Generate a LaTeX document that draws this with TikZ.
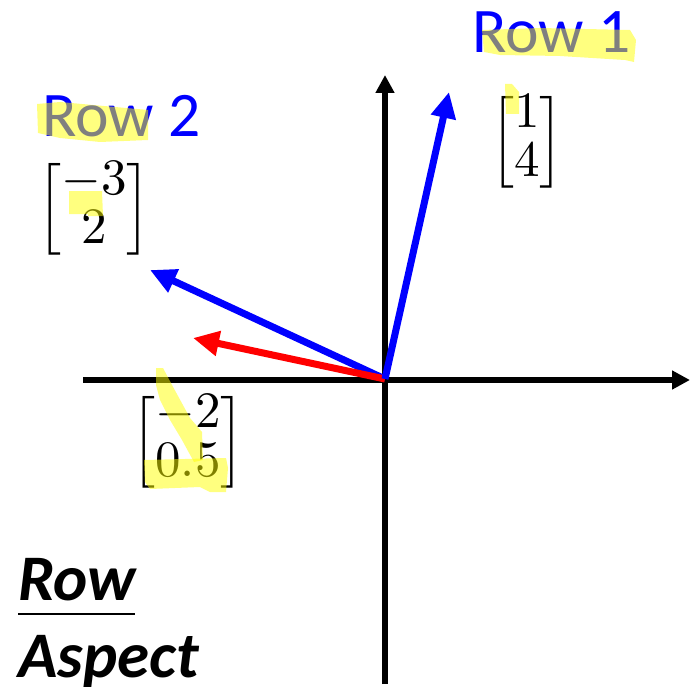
\documentclass[tikz,border=0pt]{standalone}
\usepackage{amsmath}
\usepackage{graphicx}
\usepackage{fontspec}
\setmainfont{Carlito}
\usetikzlibrary{arrows.meta}
\tikzset{
  axis/.style={line width=6pt,-{Triangle[length=18pt,width=18pt]}},
  vec/.style={line width=7pt,-{Triangle[length=26pt,width=24pt]}},
  lbl/.style={inner sep=0pt,anchor=base west,font=\fontsize{63.5}{70}\selectfont,text=blue},
  bi/.style={inner sep=0pt,anchor=base west,font=\fontsize{65}{70}\selectfont\bfseries\itshape},
  mat/.style={inner sep=0pt},
  hl/.style={fill={rgb,255:red,255;green,255;blue,0},fill opacity=0.5,draw=none},
}
\newcommand{\bigmat}[2]{\scalebox{5.1}{\renewcommand{\arraystretch}{0.8}$\begin{bmatrix}#1\\#2\end{bmatrix}$}}
\begin{document}
\begin{tikzpicture}[x=1pt,y=-1pt]
\useasboundingbox[fill=white] (0,0) rectangle (690,687);
% axes
\coordinate (O) at (385,380);
\coordinate (xl) at (83,380);
\coordinate (xr) at (690,380);
\coordinate (yb) at (385,684);
\coordinate (yt) at (385,75);
\draw[axis] (xl) -- (xr);
\draw[axis] (yb) -- (yt);
% vectors
\coordinate (v1) at (449,92);
\coordinate (v2) at (150,270);
\coordinate (v3) at (193,338);
\coordinate (Os) at (385,379);
\draw[vec,blue] (Os) -- (v2);
\draw[vec,red] (Os) -- (v3);
\draw[vec,blue] (Os) -- (v1);
% labels
\node[lbl] (r1) at (472,53) {Row 1};
\node[lbl] (r2) at (42,137) {Row 2};
\node[mat] (m1) at (527,142) {\bigmat{1}{4}};
\node[mat] (m2) at (94,209) {\bigmat{-3}{2}};
\node[mat] (m3) at (188,442) {\bigmat{-2}{0.5}};
\node[bi] (row) at (18,600) {Row};
\node[bi] (asp) at (18,677) {Aspect};
\coordinate (ul) at (18,614);
\coordinate (ur) at (135,614);
\draw[line width=2pt] (ul) -- (ur);
% highlighter marks
\fill[hl] (482,30) -- (540,28) -- (630,30) -- (636,40) -- (634,62) -- (625,60) -- (560,56) -- (500,55) -- (484,52) -- cycle;
\fill[hl] (505,84) -- (512,84) -- (519,92) -- (519,114) -- (506,114) -- cycle;
\fill[hl] (37,104) -- (60,102) -- (148,110) -- (148,140) -- (100,142) -- (60,138) -- (38,133) -- cycle;
\fill[hl] (69,191) -- (102,191) -- (103,216) -- (88,216) -- (88,214) -- (69,214) -- cycle;
\fill[hl] (156,368) -- (163,368) -- (172,385) -- (190,418) -- (202,432) -- (203,460) -- (194,462) -- (182,440) -- (170,420) -- (160,400) -- (156,385) -- cycle;
\fill[hl] (144,460) -- (226,458) -- (228,468) -- (226,492) -- (210,492) -- (200,487) -- (150,489) -- (145,482) -- cycle;
\end{tikzpicture}
\end{document}
